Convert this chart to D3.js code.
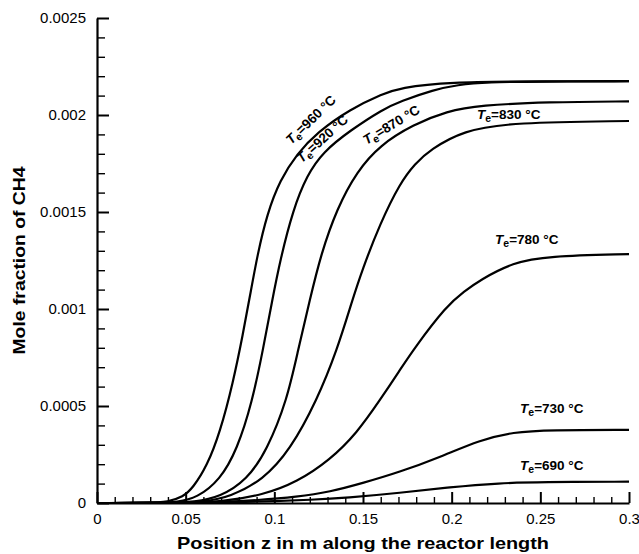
<!DOCTYPE html>
<html>
<head>
<meta charset="utf-8">
<script src="https://cdn.jsdelivr.net/npm/d3@7/dist/d3.min.js"></script>
<style>
  html, body { margin: 0; padding: 0; background: #fff; }
  svg { display: block; font-family: "Liberation Sans", Arial, Helvetica, sans-serif; }
</style>
</head>
<body>
<svg id="chart" width="639" height="554"></svg>
<script>
// ---- Data ----
const temperatures = ["960", "920", "870", "830", "780", "730", "690"];

const te960 = [[0,0],[0.03,0],[0.04,0.000006],[0.0485,0.000031],[0.0541,0.000078],[0.062,0.00019],[0.0694,0.000365],[0.0767,0.00062],[0.0823,0.00087],[0.0865,0.00108],[0.0905,0.00128],[0.0959,0.00149],[0.1032,0.001665],[0.1128,0.0018],[0.1241,0.00191],[0.1427,0.00203],[0.1613,0.00211],[0.1709,0.00214],[0.1974,0.00217],[0.25,0.002173],[0.3,0.002175]];
const te920 = [[0,0],[0.035,0],[0.045,0.000005],[0.0564,0.000026],[0.0694,0.000119],[0.079,0.000275],[0.0875,0.00052],[0.0936,0.00079],[0.0987,0.00104],[0.1035,0.00126],[0.1105,0.00151],[0.1184,0.00169],[0.1275,0.00181],[0.1427,0.00192],[0.1613,0.00203],[0.1709,0.00207],[0.19,0.00213],[0.203,0.002155],[0.22,0.00217],[0.25,0.002172],[0.3,0.002174]];
const te870 = [[0,0],[0.04,0],[0.055,0.000006],[0.0694,0.000031],[0.0846,0.000119],[0.0959,0.000273],[0.1072,0.000531],[0.1134,0.000789],[0.1201,0.00105],[0.1262,0.00128],[0.1354,0.00152],[0.1466,0.00171],[0.1596,0.001845],[0.1782,0.00195],[0.1974,0.00202],[0.216,0.00205],[0.2538,0.002067],[0.3,0.00207]];
const te830 = [[0,0],[0.045,0],[0.06,0.000006],[0.075,0.000031],[0.0936,0.000119],[0.1089,0.000273],[0.1241,0.000531],[0.1354,0.000789],[0.1438,0.00104],[0.1495,0.0012],[0.1596,0.00144],[0.1709,0.00165],[0.1794,0.00175],[0.1878,0.00182],[0.2064,0.00192],[0.2346,0.001962],[0.3,0.001969]];
const te780 = [[0,0],[0.05,0],[0.07,0.000006],[0.0936,0.000041],[0.1128,0.000108],[0.1314,0.000222],[0.1466,0.000361],[0.1596,0.000531],[0.1709,0.000686],[0.1782,0.000789],[0.1974,0.00102],[0.207,0.00109],[0.216,0.00115],[0.2346,0.00124],[0.2538,0.001273],[0.3,0.001283]];
const te730 = [[0,0],[0.05,0],[0.07,0.000005],[0.09,0.000014],[0.1128,0.000031],[0.1314,0.000057],[0.15,0.000103],[0.1709,0.00016],[0.1935,0.000237],[0.216,0.000325],[0.2346,0.000366],[0.2555,0.000376],[0.3,0.000377]];
const te690 = [[0,0],[0.05,0],[0.08,0.000004],[0.1,0.000009],[0.12,0.000016],[0.141,0.000027],[0.1709,0.000052],[0.199,0.000082],[0.2273,0.000103],[0.25,0.000108],[0.3,0.00011]];

const seriesData = [te960, te920, te870, te830, te780, te730, te690];

// label anchors (data units) and rotation for each curve label
const labelZ     = [0.1095, 0.1155, 0.152, 0.2143, 0.2245, 0.2386, 0.2386];
const labelV     = [0.001845, 0.00175, 0.001845, 0.00198, 0.001335, 0.000464, 0.00017];
const labelAngle = [-44, -42, -31, 0, 0, 0, 0];

const xTicks = [0, 0.05, 0.1, 0.15, 0.2, 0.25, 0.3];
const xTickLabels = ["0", "0.05", "0.1", "0.15", "0.2", "0.25", "0.3"];
const yTicks = [0, 0.0005, 0.001, 0.0015, 0.002, 0.0025];
const yTickLabels = ["0", "0.0005", "0.001", "0.0015", "0.002", "0.0025"];

const xTitle = "Position z in m along the reactor length";
const yTitle = "Mole fraction of CH4";

// ---- Layout ----
const svg = d3.select("#chart");
const mLeft = 97, mRight = 629, mTop = 18, mBottom = 503;

const x = d3.scaleLinear().domain([0, 0.3]).range([mLeft, mRight]);
const y = d3.scaleLinear().domain([0, 0.0025]).range([mBottom, mTop]);

// minor ticks
const xMinor = d3.range(0, 0.3001, 0.01).filter(v => Math.abs(Math.round(v / 0.05) * 0.05 - v) > 1e-6);
const yMinor = d3.range(0, 0.00250001, 0.0001).filter(v => Math.abs(Math.round(v / 0.0005) * 0.0005 - v) > 1e-9);

svg.append("g")
  .attr("transform", `translate(0,${mBottom})`)
  .call(d3.axisBottom(x).tickValues(xMinor).tickSizeInner(-6).tickSizeOuter(0).tickFormat(""))
  .call(g => g.select(".domain").remove())
  .call(g => g.selectAll("line").attr("stroke", "#000").attr("stroke-width", 1.4));

svg.append("g")
  .attr("transform", `translate(${mLeft},0)`)
  .call(d3.axisLeft(y).tickValues(yMinor).tickSizeInner(-8).tickSizeOuter(0).tickFormat(""))
  .call(g => g.select(".domain").remove())
  .call(g => g.selectAll("line").attr("stroke", "#000").attr("stroke-width", 1.4));

// major x axis
svg.append("g")
  .attr("transform", `translate(0,${mBottom})`)
  .call(d3.axisBottom(x).tickValues(xTicks).tickSizeInner(-11).tickSizeOuter(0).tickPadding(10)
        .tickFormat((d, i) => xTickLabels[i]))
  .call(g => g.select(".domain").attr("stroke", "#000").attr("stroke-width", 2.2))
  .call(g => g.selectAll(".tick line").attr("stroke", "#000").attr("stroke-width", 2))
  .call(g => g.selectAll("text").attr("font-size", 15).attr("fill", "#000")
        .attr("font-family", "'Liberation Sans', Arial, sans-serif"));

// major y axis
svg.append("g")
  .attr("transform", `translate(${mLeft},0)`)
  .call(d3.axisLeft(y).tickValues(yTicks).tickSizeInner(-12).tickSizeOuter(0).tickPadding(11)
        .tickFormat((d, i) => yTickLabels[i]))
  .call(g => g.select(".domain").attr("stroke", "#000").attr("stroke-width", 2.2))
  .call(g => g.selectAll(".tick line").attr("stroke", "#000").attr("stroke-width", 2))
  .call(g => g.selectAll("text").attr("font-size", 15).attr("fill", "#000")
        .attr("font-family", "'Liberation Sans', Arial, sans-serif"));

// curves
const line = d3.line()
  .x(d => x(d[0]))
  .y(d => y(d[1]))
  .curve(d3.curveBasis);

svg.append("g")
  .selectAll("path")
  .data(seriesData)
  .join("path")
  .attr("d", line)
  .attr("fill", "none")
  .attr("stroke", "#000")
  .attr("stroke-width", 2.2)
  .attr("stroke-linejoin", "round");

// curve labels
const labels = svg.append("g")
  .selectAll("text")
  .data(temperatures)
  .join("text")
  .attr("transform", (d, i) => `translate(${x(labelZ[i])},${y(labelV[i])}) rotate(${labelAngle[i]})`)
  .attr("font-size", 13.5)
  .attr("font-weight", "bold")
  .attr("fill", "#000");

labels.append("tspan").attr("font-style", "italic").text("T");
labels.append("tspan").attr("font-size", 10.5).attr("dy", 3).text("e");
labels.append("tspan").attr("dy", -3).text(d => `=${d} °C`);

// axis titles
svg.append("text")
  .attr("x", (mLeft + mRight) / 2)
  .attr("y", 549)
  .attr("text-anchor", "middle")
  .attr("font-size", 17)
  .attr("font-weight", "bold")
  .attr("textLength", 372)
  .attr("lengthAdjust", "spacingAndGlyphs")
  .text(xTitle);

svg.append("text")
  .attr("transform", `translate(25,${(mTop + mBottom) / 2}) rotate(-90)`)
  .attr("text-anchor", "middle")
  .attr("font-size", 17)
  .attr("font-weight", "bold")
  .attr("textLength", 188)
  .attr("lengthAdjust", "spacingAndGlyphs")
  .text(yTitle);
</script>
</body>
</html>
